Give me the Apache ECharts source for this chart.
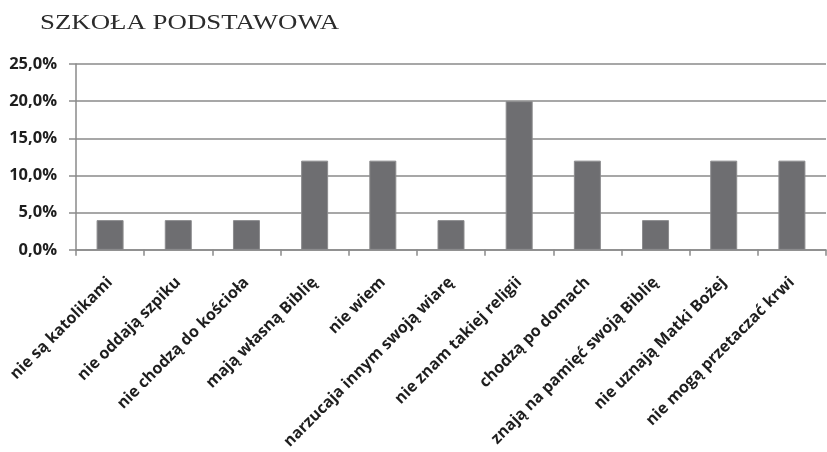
<!DOCTYPE html>
<html>
<head>
<meta charset="utf-8">
<script src="https://cdn.jsdelivr.net/npm/echarts@6/dist/echarts.min.js"></script>
<style>
  html, body { margin: 0; padding: 0; background: #ffffff; }
  #chart { width: 827px; height: 452px; }
</style>
</head>
<body>
<div id="chart"></div>
<script>
// Answers (share of responses, %)
const categories = [
  'nie są katolikami',
  'nie oddają szpiku',
  'nie chodzą do kościoła',
  'mają własną Biblię',
  'nie wiem',
  'narzucaja innym swoją wiarę',
  'nie znam takiej religii',
  'chodzą po domach',
  'znają na pamięć swoją Biblię',
  'nie uznają Matki Bożej',
  'nie mogą przetaczać krwi'
];
const values = [4, 4, 4, 12, 12, 4, 20, 12, 4, 12, 12];
const yTicks = { min: 0, max: 25, interval: 5 };
const titleText = 'SZKOŁA PODSTAWOWA';

const chart = echarts.init(document.getElementById('chart'), null, { renderer: 'canvas' });

const labelFont = "'Open Sans', 'DejaVu Sans', sans-serif";

chart.setOption({
  backgroundColor: '#ffffff',
  animation: false,
  graphic: [{
    type: 'text',
    left: 40,
    top: 12,
    scaleX: 1.22,
    style: {
      text: titleText,
      font: "normal 22px 'Liberation Serif', 'DejaVu Serif', serif",
      fill: '#2b2b2b'
    }
  }],
  grid: { left: 76, right: 1, top: 64, bottom: 202, containLabel: false },
  xAxis: {
    type: 'category',
    data: categories,
    boundaryGap: true,
    axisLine: { show: true, lineStyle: { color: '#8a8a8a', width: 1.5 } },
    axisTick: { show: true, length: 6, alignWithLabel: false, lineStyle: { color: '#8a8a8a', width: 1.5 } },
    axisLabel: {
      interval: 0,
      rotate: 45,
      margin: 30,
      fontFamily: labelFont,
      fontWeight: 'bold',
      fontSize: 16,
      color: '#1e1e1e'
    }
  },
  yAxis: {
    type: 'value',
    min: yTicks.min,
    max: yTicks.max,
    interval: yTicks.interval,
    axisLine: { show: true, lineStyle: { color: '#8a8a8a', width: 1.5 } },
    axisTick: { show: true, length: 7, lineStyle: { color: '#8a8a8a', width: 1.5 } },
    splitLine: { show: true, lineStyle: { color: '#8a8a8a', width: 1.5 } },
    axisLabel: {
      margin: 19,
      fontFamily: labelFont,
      fontWeight: 'bold',
      fontSize: 16.5,
      color: '#1e1e1e',
      formatter: v => v.toFixed(1).replace('.', ',') + '%'
    }
  },
  series: [{
    type: 'bar',
    data: values,
    barWidth: 27,
    itemStyle: { color: '#6e6e71', borderColor: '#8c8c8e', borderWidth: 1 }
  }]
});
</script>
</body>
</html>
